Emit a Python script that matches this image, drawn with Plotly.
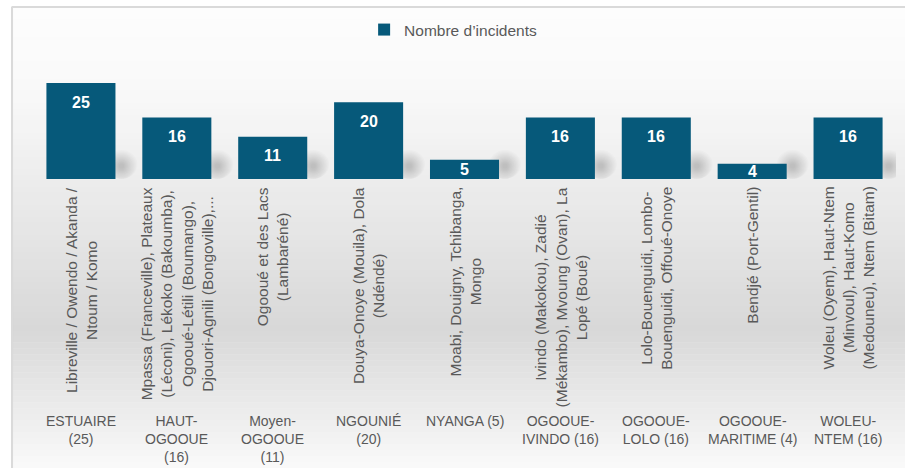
import plotly.graph_objects as go

# ---------------- data ----------------
provinces = ["ESTUAIRE<br>(25)", "HAUT-<br>OGOOUE<br>(16)", "Moyen-<br>OGOOUE<br>(11)",
             "NGOUNIÉ<br>(20)", "NYANGA (5)", "OGOOUE-<br>IVINDO (16)", "OGOOUE-<br>LOLO (16)",
             "OGOOUE-<br>MARITIME (4)", "WOLEU-<br>NTEM (16)"]
departements = [
    "Libreville / Owendo / Akanda /<br>Ntoum / Komo",
    "Mpassa (Franceville), Plateaux<br>(Léconi), Lékoko (Bakoumba),<br>Ogooué-Létili (Boumango),<br>Djouori-Agnili (Bongoville),...",
    "Ogooué et des Lacs<br>(Lambaréné)",
    "Douya-Onoye (Mouila), Dola<br>(Ndéndé)",
    "Moabi, Douigny, Tchibanga,<br>Mongo",
    "Ivindo (Makokou), Zadié<br>(Mékambo), Mvoung (Ovan), La<br>Lopé (Boué)",
    "Lolo-Bouenguidi, Lombo-<br>Bouenguidi, Offoué-Onoye",
    "Bendjé (Port-Gentil)",
    "Woleu (Oyem), Haut-Ntem<br>(Minvoul), Haut-Komo<br>(Medouneu), Ntem (Bitam)",
]
incidents = [25, 16, 11, 20, 5, 16, 16, 4, 16]
series_name = "Nombre d’incidents"

# ---------------- layout geometry ----------------
W, H = 905, 468
PL, PR = 32.5, 896.5      # plot area px
PT, PB = 60, 179          # plot top / baseline px
PXU = 3.84                # px per incident
YMAX = (PB - PT) / PXU
CATW = (PR - PL) / len(incidents)

def xp(px):
    return (px - PL) / (PR - PL)

def yp(py):
    return (PB - py) / (PB - PT)

GRAY = "#595959"
BAR = "#06597A"
FONT = "Liberation Sans, Arial, sans-serif"
BARGAP = 0.28

cats = list(range(len(incidents)))

fig = go.Figure()
fig.add_trace(go.Bar(
    x=cats, y=incidents, name=series_name,
    marker=dict(color=BAR, line=dict(width=0)),
    showlegend=True, hoverinfo="skip",
))

annotations = []
# value labels
for c, v in zip(cats, incidents):
    if v >= 10:
        annotations.append(dict(x=c, y=v, xref="x", yref="y", text=str(v), showarrow=False,
                                yanchor="middle", yshift=-19,
                                font=dict(family=FONT, size=16, color="white", weight="bold")))
    else:
        annotations.append(dict(x=c, y=v / 2, xref="x", yref="y", text=str(v), showarrow=False,
                                yanchor="middle",
                                font=dict(family=FONT, size=16, color="white", weight="bold")))

# rotated department labels
for c, t in zip(cats, departements):
    annotations.append(dict(x=c, y=yp(185), xref="x", yref="paper", text=t, showarrow=False,
                            textangle=-90, yanchor="top", xanchor="center", align="center",
                            font=dict(family=FONT, size=15.5, color=GRAY)))

# province labels
for c, t in zip(cats, provinces):
    annotations.append(dict(x=c, y=yp(411), xref="x", yref="paper", text=t, showarrow=False,
                            yanchor="top", xanchor="center", align="center",
                            font=dict(family=FONT, size=14, color=GRAY)))

# background gradient (frame)
shapes = []
stops = [(7, 253), (90, 249), (330, 216), (468, 250)]
def gray_at(py):
    for (a, ca), (b, cb) in zip(stops[:-1], stops[1:]):
        if a <= py <= b:
            t = (py - a) / (b - a)
            return round(ca + (cb - ca) * t)
    return stops[-1][1]

N = 77
y0 = 7
step = (H - y0) / N
for i in range(N):
    top = y0 + i * step
    bot = top + step + 0.6
    g = gray_at(top + step / 2)
    shapes.append(dict(type="rect", xref="paper", yref="paper", layer="below",
                       x0=xp(11), x1=xp(W + 2), y0=yp(bot), y1=yp(top),
                       fillcolor=f"rgb({g},{g},{g})", line=dict(width=0)))
# frame border
shapes.append(dict(type="line", xref="paper", yref="paper", layer="below",
                   x0=xp(11.5), x1=xp(11.5), y0=yp(7), y1=yp(H + 2), line=dict(color="#DADADA", width=2)))
shapes.append(dict(type="line", xref="paper", yref="paper", layer="below",
                   x0=xp(11), x1=xp(W + 2), y0=yp(7), y1=yp(7), line=dict(color="#DADADA", width=2)))

# soft shadows at bottom-right of each bar (many faint layers for a smooth blur)
half = (1 - BARGAP) / 2
for c in cats:
    cx = c + half + 6 / CATW
    cy = 13 / PXU
    for k in range(12):
        r = 16 - k * 1.2
        shapes.append(dict(type="circle", xref="x", yref="y", layer="below",
                           x0=cx - r / CATW, x1=cx + r / CATW,
                           y0=max(cy - r / PXU, 0), y1=cy + r / PXU,
                           fillcolor="rgba(0,0,0,0.014)", line=dict(width=0)))

fig.update_layout(
    width=W, height=H,
    margin=dict(l=PL, r=W - PR, t=PT, b=H - PB, pad=0),
    paper_bgcolor="white", plot_bgcolor="rgba(0,0,0,0)",
    bargap=BARGAP,
    xaxis=dict(range=[-0.5, len(incidents) - 0.5], showticklabels=False, showgrid=False,
               zeroline=False, showline=False, ticks=""),
    yaxis=dict(range=[0, YMAX], showticklabels=False, showgrid=False, zeroline=False, showline=False),
    legend=dict(orientation="h", x=xp(364), xanchor="left", y=yp(30), yanchor="middle",
                font=dict(family=FONT, size=15.5, color=GRAY),
                bgcolor="rgba(0,0,0,0)", itemwidth=30),
    annotations=annotations,
    shapes=shapes,
    showlegend=True,
    hovermode=False,
)

fig.write_html("out.html", config={"displayModeBar": False},
               post_script="document.body.style.margin='0px';")
